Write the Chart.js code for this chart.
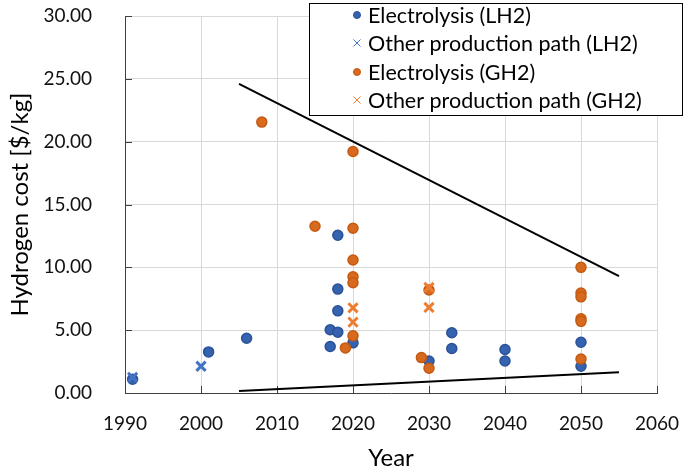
<!DOCTYPE html>
<html>
<head>
<meta charset="utf-8">
<script src="https://cdn.jsdelivr.net/npm/chart.js@4.4.1/dist/chart.umd.min.js"></script>
<style>
  html, body { margin: 0; padding: 0; background: #fff; }
</style>
</head>
<body>
<canvas id="cost_chart" width="685" height="476"></canvas>
<script>
// Electrolysis (LH2)
var elecLH2Years = [1991, 2001, 2006, 2017, 2017, 2018, 2018, 2018, 2018, 2020, 2030, 2033, 2033, 2040, 2040, 2050, 2050];
var elecLH2Cost  = [1.09, 3.27, 4.36, 5.03, 3.70, 12.55, 8.27, 6.54, 4.84, 3.99, 2.55, 4.79, 3.54, 3.46, 2.55, 4.04, 2.13];
// Other production path (LH2)
var otherLH2Years = [1991, 2000];
var otherLH2Cost  = [1.25, 2.13];
// Electrolysis (GH2)
var elecGH2Years = [2008, 2015, 2019, 2020, 2020, 2020, 2020, 2020, 2020, 2029, 2030, 2030, 2050, 2050, 2050, 2050, 2050, 2050];
var elecGH2Cost  = [21.56, 13.27, 3.59, 19.22, 13.11, 10.58, 9.25, 8.77, 4.55, 2.82, 8.20, 1.97, 10.00, 7.95, 7.65, 5.90, 5.70, 2.71];
// Other production path (GH2)
var otherGH2Years = [2020, 2020, 2030, 2030];
var otherGH2Cost  = [6.78, 5.64, 8.40, 6.81];
// upper / lower bounding lines
var boundYears = [2005, 2055];
var upperCost  = [24.6, 9.3];
var lowerCost  = [0.15, 1.65];

var xTicks = [1990, 2000, 2010, 2020, 2030, 2040, 2050, 2060];
var yTicks = [0, 5, 10, 15, 20, 25, 30];

var FONT = 'Lato';
var AXIS = '#404040';

function pts(xs, ys) {
  return xs.map(function (x, i) { return { x: x, y: ys[i] }; });
}

// legend in a box over the plot, like the original
var boxLegend = {
  id: 'boxLegend',
  afterDraw: function (chart) {
    var ctx = chart.ctx;
    ctx.save();
    ctx.fillStyle = '#fff';
    ctx.fillRect(309.5, 3.5, 373, 112);
    ctx.strokeStyle = '#000';
    ctx.lineWidth = 1;
    ctx.strokeRect(309.5, 3.5, 373, 112);
    var rows = [15, 43, 72, 100];
    chart.data.datasets.forEach(function (ds, i) {
      if (!ds.inLegend) return;
      var y = rows[i];
      var round = ds.pointStyle === 'circle';
      ctx.fillStyle = ds.pointBackgroundColor;
      ctx.strokeStyle = ds.pointBorderColor;
      Chart.helpers.drawPoint(ctx, {
        pointStyle: ds.pointStyle,
        radius: round ? 3.5 : 5,
        borderWidth: round ? 1 : 2.5,
        rotation: 0
      }, 357, y);
      ctx.fillStyle = '#000';
      ctx.font = '21.5px ' + FONT;
      ctx.textBaseline = 'middle';
      ctx.textAlign = 'left';
      ctx.fillText(ds.label, 368, y + 1);
    });
    ctx.restore();
  }
};

// short tick marks pointing into the plot
var innerTicks = {
  id: 'innerTicks',
  beforeDatasetsDraw: function (chart) {
    var ctx = chart.ctx, xs = chart.scales.x, ys = chart.scales.y;
    var a = chart.chartArea;
    ctx.save();
    ctx.strokeStyle = AXIS;
    ctx.lineWidth = 1;
    ctx.beginPath();
    xTicks.forEach(function (v) {
      var px = Math.round(xs.getPixelForValue(v)) + 0.5;
      ctx.moveTo(px, a.bottom);
      ctx.lineTo(px, a.bottom - 7);
    });
    yTicks.forEach(function (v) {
      var py = Math.round(ys.getPixelForValue(v)) + 0.5;
      ctx.moveTo(a.left, py);
      ctx.lineTo(a.left + 7, py);
    });
    ctx.stroke();
    ctx.restore();
  }
};

new Chart(document.getElementById('cost_chart').getContext('2d'), {
  type: 'scatter',
  data: {
    datasets: [{
        label: 'Electrolysis (LH2)',
        inLegend: true,
        data: pts(elecLH2Years, elecLH2Cost),
        pointStyle: 'circle',
        pointRadius: 5,
        pointBorderWidth: 1.5,
        pointBackgroundColor: '#3563B0',
        pointBorderColor: '#2A5298',
        order: 4
      },
      {
        label: 'Other production path (LH2)',
        inLegend: true,
        data: pts(otherLH2Years, otherLH2Cost),
        pointStyle: 'crossRot',
        pointRadius: 6.5,
        pointBorderWidth: 3,
        pointBackgroundColor: '#4472C4',
        pointBorderColor: '#4472C4',
        order: 3
      },
      {
        label: 'Electrolysis (GH2)',
        inLegend: true,
        data: pts(elecGH2Years, elecGH2Cost),
        pointStyle: 'circle',
        pointRadius: 5,
        pointBorderWidth: 1.5,
        pointBackgroundColor: '#D86A1F',
        pointBorderColor: '#C55A11',
        order: 2
      },
      {
        label: 'Other production path (GH2)',
        inLegend: true,
        data: pts(otherGH2Years, otherGH2Cost),
        pointStyle: 'crossRot',
        pointRadius: 6.5,
        pointBorderWidth: 3,
        pointBackgroundColor: '#ED7D31',
        pointBorderColor: '#ED7D31',
        order: 1
      },
      {
        label: 'upper',
        data: pts(boundYears, upperCost),
        showLine: true,
        pointRadius: 0,
        borderColor: '#000',
        borderWidth: 2,
        order: 0
      },
      {
        label: 'lower',
        data: pts(boundYears, lowerCost),
        showLine: true,
        pointRadius: 0,
        borderColor: '#000',
        borderWidth: 2,
        order: 0
      }
    ]
  },
  options: {
    responsive: false,
    animation: false,
    layout: { padding: { top: 16, right: 28, left: 0, bottom: 0 } },
    plugins: {
      legend: { display: false },
      tooltip: { enabled: false }
    },
    scales: {
      x: {
        type: 'linear',
        min: 1990,
        max: 2060,
        afterFit: function (s) { s.height = 83; },
        afterBuildTicks: function (s) { s.ticks = xTicks.map(function (v) { return { value: v }; }); },
        ticks: {
          padding: 0,
          color: '#111',
          font: { family: FONT, size: 19 },
          callback: function (v) { return String(v); }
        },
        // transparent tick marks only push the labels away from the axis
        grid: { color: '#d9d9d9', drawTicks: true, tickLength: 19, tickColor: 'rgba(0,0,0,0)' },
        border: { color: AXIS, width: 1 },
        title: {
          display: true,
          text: 'Year',
          color: '#000',
          font: { family: FONT, size: 24 },
          padding: { top: 0, bottom: 3 }
        }
      },
      y: {
        min: 0,
        max: 30,
        afterFit: function (s) { s.width = 125; },
        afterBuildTicks: function (s) { s.ticks = yTicks.map(function (v) { return { value: v }; }); },
        ticks: {
          padding: 0,
          color: '#111',
          font: { family: FONT, size: 19 },
          callback: function (v) { return v.toFixed(2); }
        },
        grid: { color: '#d9d9d9', drawTicks: true, tickLength: 33, tickColor: 'rgba(0,0,0,0)' },
        border: { color: AXIS, width: 1 },
        title: {
          display: true,
          text: 'Hydrogen cost [$/kg]',
          color: '#000',
          font: { family: FONT, size: 24 },
          padding: { top: 6, bottom: 0 }
        }
      }
    }
  },
  plugins: [innerTicks, boxLegend]
});
</script>
</body>
</html>
